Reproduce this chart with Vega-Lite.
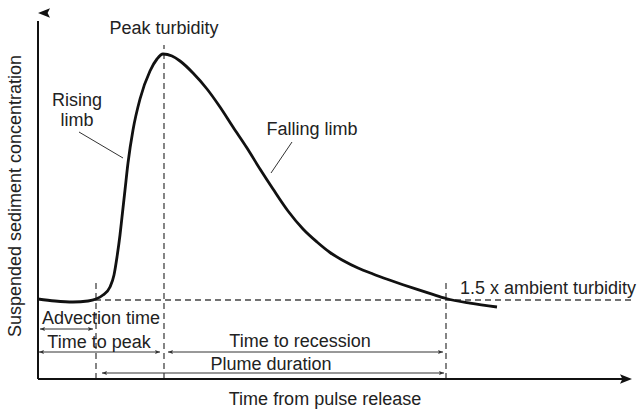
{
  "$schema": "https://vega.github.io/schema/vega-lite/v6.json",
  "width": 594,
  "height": 366,
  "autosize": "none",
  "padding": {"left": 38, "top": 13, "right": 12, "bottom": 33},
  "background": "white",
  "config": {"view": {"stroke": null}, "font": "Liberation Sans"},
  "datasets": {
    "curve": [
      {"t": 0, "c": 80}, {"t": 17, "c": 78}, {"t": 35, "c": 77}, {"t": 50, "c": 78},
      {"t": 58, "c": 80}, {"t": 65, "c": 84}, {"t": 72, "c": 92}, {"t": 76, "c": 104},
      {"t": 79, "c": 122}, {"t": 82, "c": 144}, {"t": 84, "c": 162}, {"t": 87, "c": 189},
      {"t": 90, "c": 216}, {"t": 95, "c": 249}, {"t": 102, "c": 280}, {"t": 112, "c": 308},
      {"t": 119, "c": 320}, {"t": 125, "c": 325}, {"t": 134, "c": 323}, {"t": 142, "c": 318},
      {"t": 155, "c": 306}, {"t": 169, "c": 290}, {"t": 182, "c": 272}, {"t": 195, "c": 252},
      {"t": 209, "c": 231}, {"t": 222, "c": 210}, {"t": 235, "c": 190}, {"t": 250, "c": 168},
      {"t": 265, "c": 150}, {"t": 279, "c": 137}, {"t": 292, "c": 126.5}, {"t": 305, "c": 118.5},
      {"t": 320, "c": 111}, {"t": 335, "c": 105}, {"t": 350, "c": 99.5}, {"t": 365, "c": 94.3},
      {"t": 380, "c": 89.3}, {"t": 394, "c": 84.8}, {"t": 408, "c": 80.5}, {"t": 432, "c": 75.8},
      {"t": 459, "c": 72}
    ],
    "dashed": [
      {"x": 57, "x2": 594, "y": 79, "y2": 79},
      {"x": 58, "x2": 58, "y": 0, "y2": 97},
      {"x": 126, "x2": 126, "y": 0, "y2": 334},
      {"x": 408, "x2": 408, "y": 0, "y2": 99}
    ],
    "thin": [
      {"x": 2, "x2": 55, "y": 50, "y2": 50},
      {"x": 1, "x2": 122, "y": 27, "y2": 27},
      {"x": 130, "x2": 405, "y": 27, "y2": 27},
      {"x": 64, "x2": 406, "y": 6, "y2": 6},
      {"x": 41, "x2": 85, "y": 247, "y2": 221},
      {"x": 254, "x2": 233, "y": 237, "y2": 206}
    ],
    "axes": [
      {"x": 0, "x2": 0, "y": 0, "y2": 358},
      {"x": 0, "x2": 586, "y": 0, "y2": 0}
    ],
    "heads": [
      {"x": 2, "y": 50, "dir": "left"}, {"x": 55, "y": 50, "dir": "right"},
      {"x": 1, "y": 27, "dir": "left"}, {"x": 122, "y": 27, "dir": "right"},
      {"x": 130, "y": 27, "dir": "left"}, {"x": 405, "y": 27, "dir": "right"},
      {"x": 64, "y": 6, "dir": "left"}, {"x": 406, "y": 6, "dir": "right"}
    ],
    "axisheads": [
      {"x": 0, "y": 366, "dir": "up"},
      {"x": 594, "y": 0, "dir": "east"}
    ],
    "labels": [
      {"x": 126, "y": 350, "text": "Peak turbidity", "angle": 0},
      {"x": 39, "y": 278, "text": "Rising", "angle": 0},
      {"x": 39, "y": 258, "text": "limb", "angle": 0},
      {"x": 274, "y": 249, "text": "Falling limb", "angle": 0},
      {"x": 63, "y": 60, "text": "Advection time", "angle": 0},
      {"x": 61, "y": 36, "text": "Time to peak", "angle": 0},
      {"x": 262, "y": 37, "text": "Time to recession", "angle": 0},
      {"x": 233, "y": 14, "text": "Plume duration", "angle": 0},
      {"x": 287, "y": -21, "text": "Time from pulse release", "angle": 0},
      {"x": -22, "y": 183, "text": "Suspended sediment concentration", "angle": 270}
    ],
    "leftlabels": [
      {"x": 422, "y": 90, "text": "1.5 x ambient turbidity"}
    ]
  },
  "layer": [
    {
      "data": {"name": "dashed"},
      "mark": {"type": "rule", "strokeDash": [6, 4], "strokeWidth": 1.3, "color": "#444"},
      "encoding": {
        "x": {"field": "x", "type": "quantitative", "scale": {"domain": [0, 594], "nice": false, "zero": false}, "axis": null},
        "x2": {"field": "x2"},
        "y": {"field": "y", "type": "quantitative", "scale": {"domain": [0, 366], "nice": false, "zero": false}, "axis": null},
        "y2": {"field": "y2"}
      }
    },
    {
      "data": {"name": "thin"},
      "mark": {"type": "rule", "strokeWidth": 1, "color": "#333"},
      "encoding": {
        "x": {"field": "x", "type": "quantitative"},
        "x2": {"field": "x2"},
        "y": {"field": "y", "type": "quantitative"},
        "y2": {"field": "y2"}
      }
    },
    {
      "data": {"name": "axes"},
      "mark": {"type": "rule", "strokeWidth": 2, "color": "#111"},
      "encoding": {
        "x": {"field": "x", "type": "quantitative"},
        "x2": {"field": "x2"},
        "y": {"field": "y", "type": "quantitative"},
        "y2": {"field": "y2"}
      }
    },
    {
      "data": {"name": "curve"},
      "mark": {"type": "line", "interpolate": "monotone", "strokeWidth": 2.8, "color": "#111"},
      "encoding": {
        "x": {"field": "t", "type": "quantitative"},
        "y": {"field": "c", "type": "quantitative"}
      }
    },
    {
      "data": {"name": "heads"},
      "mark": {"type": "point", "filled": true, "size": 100, "color": "#333", "opacity": 1},
      "encoding": {
        "x": {"field": "x", "type": "quantitative"},
        "y": {"field": "y", "type": "quantitative"},
        "shape": {"field": "dir", "type": "nominal", "legend": null,
          "scale": {"domain": ["left", "right"], "range": ["M0,0L1,-0.4L0.8,0L1,0.4Z", "M0,0L-1,-0.4L-0.8,0L-1,0.4Z"]}}
      }
    },
    {
      "data": {"name": "axisheads"},
      "mark": {"type": "point", "filled": true, "size": 576, "color": "#111", "opacity": 1},
      "encoding": {
        "x": {"field": "x", "type": "quantitative"},
        "y": {"field": "y", "type": "quantitative"},
        "shape": {"field": "dir", "type": "nominal", "legend": null,
          "scale": {"domain": ["up", "east"], "range": ["M0,0L-0.42,1L0,0.85L0.42,1Z", "M0,0L-1,-0.42L-0.85,0L-1,0.42Z"]}}
      }
    },
    {
      "data": {"name": "labels"},
      "mark": {"type": "text", "fontSize": 18, "color": "#222", "baseline": "middle", "align": "center"},
      "encoding": {
        "x": {"field": "x", "type": "quantitative"},
        "y": {"field": "y", "type": "quantitative"},
        "text": {"field": "text"},
        "angle": {"field": "angle", "type": "quantitative", "scale": null}
      }
    },
    {
      "data": {"name": "leftlabels"},
      "mark": {"type": "text", "fontSize": 18, "color": "#222", "baseline": "middle", "align": "left"},
      "encoding": {
        "x": {"field": "x", "type": "quantitative"},
        "y": {"field": "y", "type": "quantitative"},
        "text": {"field": "text"}
      }
    }
  ]
}
